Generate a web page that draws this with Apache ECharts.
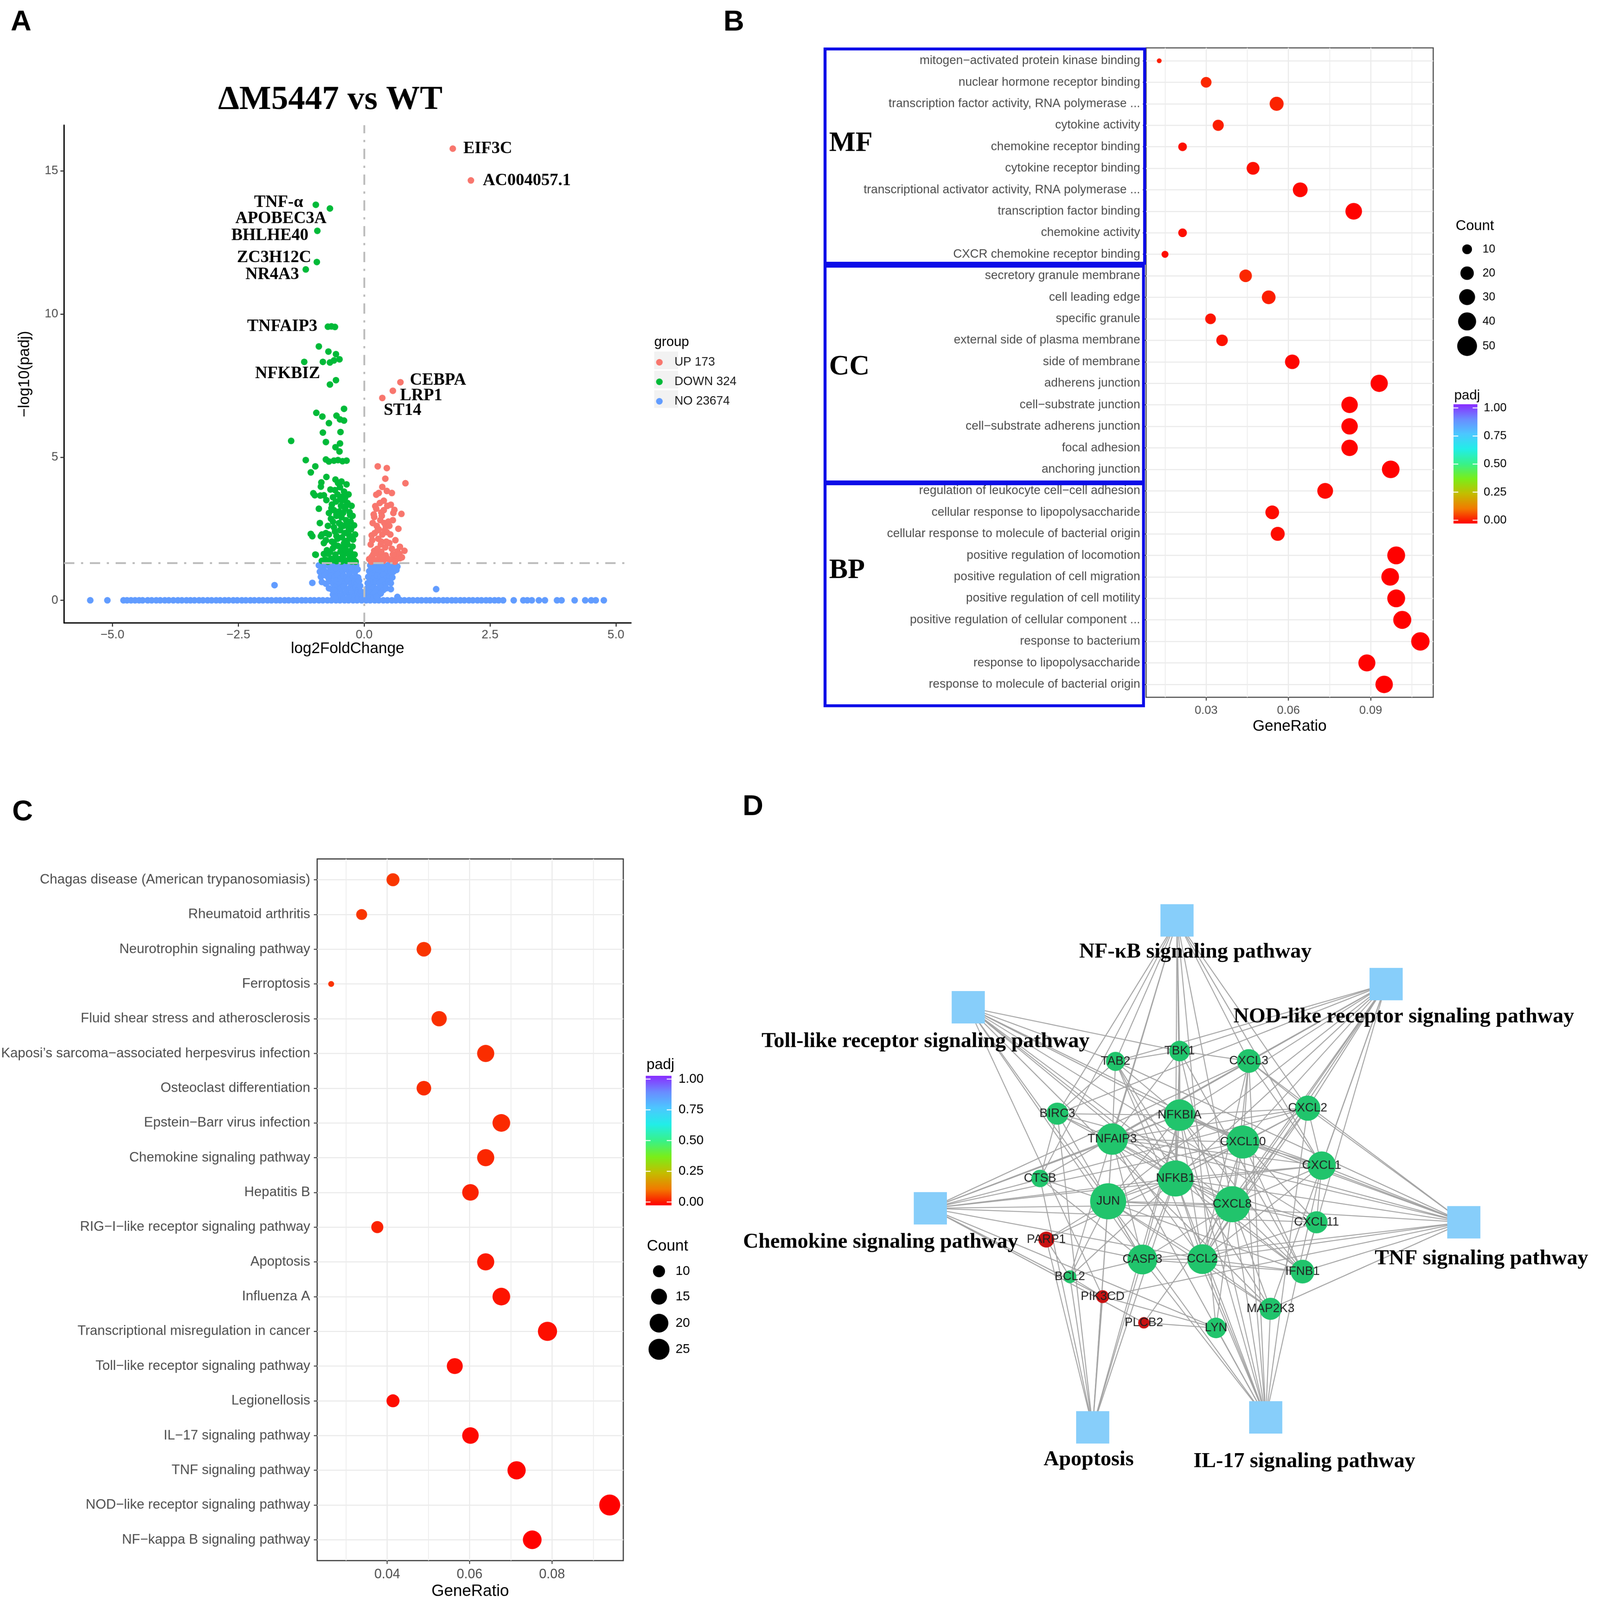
<!DOCTYPE html>
<html><head><meta charset="utf-8">
<script src="https://cdn.jsdelivr.net/npm/echarts@6/dist/echarts.min.js"></script>
<style>html,body{margin:0;padding:0;background:#fff;overflow:hidden}#c{width:4317px;height:4346px;transform-origin:0 0}</style>
</head><body><div id="c"></div>
<script>
// ================= DATA =================
// Panel A: volcano plot (log2FoldChange, -log10(padj))
const labeledGenes = [
  ['EIF3C', 1.76, 15.78, 'UP'], ['AC004057.1', 2.12, 14.67, 'UP'],
  ['TNF-\u03b1', -0.96, 13.82, 'DOWN'], ['APOBEC3A', -0.68, 13.69, 'DOWN'],
  ['BHLHE40', -0.93, 12.91, 'DOWN'], ['ZC3H12C', -0.94, 11.82, 'DOWN'],
  ['NR4A3', -1.16, 11.56, 'DOWN'], ['TNFAIP3', -0.72, 9.56, 'DOWN'],
  ['NFKBIZ', -0.68, 7.54, 'DOWN'], ['CEBPA', 0.72, 7.62, 'UP'],
  ['LRP1', 0.57, 7.32, 'UP'], ['ST14', 0.36, 7.07, 'UP']
];
const upPoints = [
  [0.27,4.68],[0.45,4.62],[0.42,4.25],[0.82,4.09],[0.36,3.96],[0.45,3.82],[0.55,3.75],[0.24,3.69],[0.29,3.75],[0.39,3.48],
  [0.53,3.34],[0.6,3.16],[0.74,3.02],[0.22,3.29],[0.34,3.07],[0.57,2.8],[0.2,2.91],[0.43,2.59],[0.29,2.48],[0.45,2.38],
  [0.15,2.27],[0.34,2.05],[0.5,2.0],[0.71,1.87],[0.8,1.73],[0.66,1.71],[0.2,1.73],[0.43,1.57],[0.15,1.52],[0.59,1.54],
  [0.29,1.44],[0.53,1.41],[0.71,1.47],[0.1,1.44],[0.14,1.35],[0.18,1.6],[0.22,1.4],[0.26,1.8],[0.3,1.55],[0.34,1.7],
  [0.38,1.38],[0.42,1.85],[0.47,1.45],[0.16,2.1],[0.21,2.35],[0.25,2.6],[0.28,2.15],[0.32,2.8],[0.36,2.3],[0.4,2.7],
  [0.44,2.05],[0.19,3.0],[0.24,3.2],[0.27,2.45],[0.31,3.4],[0.35,2.95],[0.39,3.15],[0.48,2.75],[0.52,2.3],[0.55,1.8],
  [0.62,2.1],[0.65,1.45],[0.68,2.5],[0.58,3.05],[0.13,1.95],[0.17,2.7],[0.23,1.65],[0.33,1.95],[0.37,1.5],[0.41,2.45],
  [0.46,3.3],[0.5,2.6],[0.57,1.6],[0.61,1.35],[0.7,1.62],[0.75,1.5]
];
const downPoints = [
  [-0.65,9.57],[-0.58,9.55],[-0.90,8.87],[-0.71,8.69],[-0.56,8.60],[-0.49,8.42],[-1.19,8.33],[-0.82,8.33],[-0.68,8.31],[-0.60,8.38],
  [-0.56,7.69],[-0.40,6.69],[-0.95,6.55],[-0.83,6.42],[-0.70,6.19],[-0.55,6.45],[-0.48,6.32],[-0.40,6.28],[-0.82,5.86],[-0.47,5.88],
  [-1.45,5.57],[-0.76,5.53],[-0.48,5.48],[-0.57,5.35],[-0.49,5.20],[-1.16,4.90],[-0.76,4.92],[-0.70,4.85],[-0.60,4.88],[-0.52,4.90],
  [-0.43,4.86],[-0.35,4.88],[-0.97,4.68],[-1.06,4.47],[-0.75,4.31],[-0.85,4.12],[-0.57,4.22],[-0.67,3.87],[-1.01,3.74],[-0.87,3.66],
  [-0.98,3.67],[-0.80,3.67],[-1.06,2.32],[-0.86,2.24],[-0.76,2.35],[-0.97,1.60],[-0.76,1.41],[-1.03,2.24],[-0.8,2.0],
  [-0.84,1.38],[-0.78,1.42],[-0.72,1.35],[-0.66,1.45],[-0.61,1.4],[-0.55,1.37],[-0.5,1.44],[-0.45,1.36],[-0.4,1.41],[-0.35,1.38],
  [-0.3,1.43],[-0.25,1.36],[-0.2,1.4],[-0.17,1.35],[-0.8,1.62],[-0.74,1.75],[-0.68,1.68],[-0.62,1.82],[-0.57,1.6],[-0.52,1.9],
  [-0.47,1.7],[-0.43,1.85],[-0.38,1.65],[-0.33,1.95],[-0.28,1.72],[-0.23,1.88],[-0.19,1.6],[-0.6,1.98],[-0.4,1.99],[-0.76,2.1],
  [-0.7,2.3],[-0.64,2.05],[-0.58,2.4],[-0.53,2.15],[-0.48,2.45],[-0.44,2.2],[-0.39,2.35],[-0.34,2.08],[-0.3,2.28],[-0.26,2.48],
  [-0.22,2.12],[-0.18,2.3],[-0.55,2.25],[-0.72,2.6],[-0.66,2.85],[-0.6,2.55],[-0.55,2.95],[-0.5,2.7],[-0.45,2.9],[-0.41,2.6],
  [-0.36,2.8],[-0.31,2.55],[-0.27,2.75],[-0.23,2.95],[-0.2,2.62],[-0.62,2.75],[-0.7,3.05],[-0.64,3.35],[-0.6,3.15],[-0.56,3.45],
  [-0.5,3.1],[-0.46,3.3],[-0.42,3.5],[-0.38,3.2],[-0.33,3.4],[-0.29,3.08],[-0.25,3.3],[-0.65,3.22],[-0.55,3.0],[-0.62,3.6],
  [-0.58,3.85],[-0.53,3.7],[-0.48,3.95],[-0.44,3.62],[-0.4,3.8],[-0.35,4.05],[-0.31,3.7],[-0.45,4.15],[-0.52,4.1],[-0.38,3.58],
  [-0.86,3.97],[-0.88,2.7],[-0.9,3.2],[-0.75,3.5],[-0.84,2.3],[-0.96,1.59],[-0.72,1.63],[-0.42,1.55],[-0.36,1.75],[-0.3,1.6],
  [-0.24,1.5],[-0.38,2.0],[-0.32,2.4],[-0.27,2.2],[-0.47,2.65],[-0.35,2.65],[-0.28,2.98],[-0.42,3.05],[-0.48,3.52],[-0.36,3.3]
];
const noPoints = [
  [-0.9,1.22],[-0.83,1.18],[-0.77,1.25],[-0.7,1.2],[-0.64,1.24],[-0.58,1.17],[-0.52,1.23],[-0.46,1.19],[-0.4,1.25],[-0.34,1.2],
  [-0.28,1.24],[-0.22,1.18],[-0.16,1.22],[-0.88,1.0],[-0.8,1.05],[-0.73,0.98],[-0.66,1.06],[-0.6,1.0],[-0.54,1.08],[-0.48,0.97],
  [-0.42,1.03],[-0.36,1.1],[-0.3,0.99],[-0.24,1.05],[-0.18,1.0],[-0.13,1.08],[-0.86,0.82],[-0.78,0.88],[-0.71,0.78],[-0.65,0.85],
  [-0.59,0.8],[-0.53,0.9],[-0.47,0.77],[-0.41,0.86],[-0.35,0.8],[-0.29,0.9],[-0.23,0.78],[-0.17,0.84],[-0.12,0.8],[-0.84,0.64],
  [-0.76,0.58],[-0.69,0.66],[-0.62,0.6],[-0.56,0.68],[-0.5,0.57],[-0.44,0.65],[-0.38,0.6],[-0.32,0.7],[-0.26,0.58],[-0.2,0.64],
  [-0.14,0.6],[-0.1,0.68],[-0.7,0.42],[-0.64,0.38],[-0.58,0.45],[-0.52,0.36],[-0.46,0.42],[-0.4,0.48],[-0.34,0.38],[-0.28,0.44],
  [-0.22,0.4],[-0.16,0.46],[-0.11,0.38],[-0.08,0.5],[-0.62,0.2],[-0.55,0.25],[-0.48,0.16],[-0.42,0.22],[-0.36,0.28],[-0.3,0.18],
  [-0.24,0.24],[-0.18,0.15],[-0.13,0.26],[-0.09,0.2],[-0.06,0.3],[-0.4,0.06],[-0.3,0.1],[-0.2,0.05],[-0.12,0.08],[-0.06,0.12],
  [-0.03,0.06],[0.12,1.22],[0.18,1.18],[0.24,1.25],[0.3,1.2],[0.36,1.24],[0.42,1.17],[0.48,1.23],[0.54,1.2],[0.6,1.25],
  [0.66,1.18],[0.1,1.02],[0.16,1.08],[0.22,0.98],[0.28,1.05],[0.34,1.0],[0.4,1.08],[0.46,0.97],[0.52,1.04],[0.58,1.0],
  [0.64,1.06],[0.08,0.82],[0.14,0.88],[0.2,0.78],[0.26,0.86],[0.32,0.8],[0.38,0.9],[0.44,0.77],[0.5,0.84],[0.56,0.8],
  [0.07,0.6],[0.12,0.66],[0.18,0.58],[0.24,0.65],[0.3,0.6],[0.36,0.68],[0.42,0.57],[0.48,0.64],[0.53,0.6],[0.05,0.4],
  [0.1,0.46],[0.15,0.38],[0.2,0.44],[0.26,0.4],[0.32,0.47],[0.38,0.36],[0.44,0.42],[0.04,0.22],[0.08,0.16],[0.12,0.26],
  [0.17,0.2],[0.22,0.28],[0.28,0.18],[0.33,0.24],[0.03,0.08],[0.07,0.05],[0.12,0.1],[0.18,0.06],[0.25,0.12],
  [-1.78,0.53],[-1.03,0.61],[1.43,0.39],[0.53,0.39],[-0.6,0.34],[0.66,0.12],[-0.58,0.08],[0.7,0.02]
];
// genes with padj = 1 sitting on the baseline (-log10(padj) = 0)
const noBaselineX = [
  -5.44,-5.1,-4.78,-4.71,-4.63,-4.55,-4.47,-4.4,-4.3,-4.22,-4.13,-4.05,-3.96,-3.88,-3.79,-3.7,-3.62,-3.53,-3.45,-3.37,
  -3.28,-3.2,-3.11,-3.03,-2.94,-2.86,-2.77,-2.69,-2.6,-2.52,-2.43,-2.35,-2.26,-2.18,-2.09,-2.01,-1.92,-1.84,-1.75,-1.67,
  -1.58,-1.5,-1.41,-1.33,-1.24,-1.16,-1.07,-0.99,-0.9,-0.82,-0.73,-0.65,-0.56,-0.48,-0.39,-0.31,-0.22,-0.14,-0.05,0.04,
  0.12,0.21,0.29,0.38,0.46,0.55,0.63,0.72,0.8,0.89,0.97,1.06,1.14,1.23,1.31,1.4,1.48,1.57,1.65,1.74,
  1.82,1.91,1.99,2.08,2.16,2.25,2.33,2.42,2.5,2.59,2.67,2.76,2.97,3.16,3.24,3.33,3.47,3.59,3.83,3.92,
  4.18,4.39,4.51,4.6,4.76
];
const groupNames = ['UP 173', 'DOWN 324', 'NO 23674'];
const padjCut = 1.30103;
const xTicksA = [-5, -2.5, 0, 2.5, 5];
const yTicksA = [0, 5, 10, 15];

// Panel B: GO enrichment
const catsB = [
  'mitogen\u2212activated protein kinase binding','nuclear hormone receptor binding',
  'transcription factor activity, RNA polymerase ...','cytokine activity','chemokine receptor binding',
  'cytokine receptor binding','transcriptional activator activity, RNA polymerase ...','transcription factor binding',
  'chemokine activity','CXCR chemokine receptor binding','secretory granule membrane','cell leading edge',
  'specific granule','external side of plasma membrane','side of membrane','adherens junction',
  'cell\u2212substrate junction','cell\u2212substrate adherens junction','focal adhesion','anchoring junction',
  'regulation of leukocyte cell\u2212cell adhesion','cellular response to lipopolysaccharide',
  'cellular response to molecule of bacterial origin','positive regulation of locomotion',
  'positive regulation of cell migration','positive regulation of cell motility',
  'positive regulation of cellular component ...','response to bacterium','response to lipopolysaccharide',
  'response to molecule of bacterial origin'
];
const ratioB = [0.0129,0.0300,0.0557,0.0344,0.0214,0.0471,0.0643,0.0838,0.0214,0.0150,0.0444,0.0528,0.0316,0.0358,0.0614,
  0.0931,0.0823,0.0823,0.0823,0.0973,0.0734,0.0541,0.0561,0.0993,0.0971,0.0993,0.1015,0.1081,0.0886,0.0949];
const countB = [5,12,22,13,8,18,25,33,8,6,17,21,12,14,24,36,32,32,32,38,29,21,22,39,38,39,40,42,35,37];
const padjB = [0.03,0.04,0.035,0.03,0.015,0.015,0.008,0.002,0.015,0.012,0.04,0.03,0.02,0.018,0.006,
  0.003,0.004,0.004,0.004,0.002,0.01,0.012,0.012,0.001,0.001,0.001,0.001,0.0005,0.002,0.001];
const xMajorB = [0.03, 0.06, 0.09];
const xMinorB = [0.015, 0.045, 0.075, 0.105];
const countLegendB = [10, 20, 30, 40, 50];
const ontologyGroups = [['MF', 0, 9], ['CC', 10, 19], ['BP', 20, 29]];

// Panel C: KEGG enrichment
const catsC = [
  'Chagas disease (American trypanosomiasis)','Rheumatoid arthritis','Neurotrophin signaling pathway','Ferroptosis',
  'Fluid shear stress and atherosclerosis','Kaposi\u2019s sarcoma\u2212associated herpesvirus infection',
  'Osteoclast differentiation','Epstein\u2212Barr virus infection','Chemokine signaling pathway','Hepatitis B',
  'RIG\u2212I\u2212like receptor signaling pathway','Apoptosis','Influenza A','Transcriptional misregulation in cancer',
  'Toll\u2212like receptor signaling pathway','Legionellosis','IL\u221217 signaling pathway','TNF signaling pathway',
  'NOD\u2212like receptor signaling pathway','NF\u2212kappa B signaling pathway'
];
const ratioC = [0.0414,0.0338,0.0489,0.0264,0.0526,0.0639,0.0489,0.0677,0.0639,0.0602,0.0376,0.0639,0.0677,0.0789,
  0.0564,0.0414,0.0602,0.0714,0.0940,0.0752];
const countC = [11,9,13,7,14,17,13,18,17,16,10,17,18,21,15,11,16,19,25,20];
const padjC = [0.055,0.054,0.053,0.052,0.048,0.046,0.045,0.043,0.04,0.035,0.034,0.025,0.02,0.015,0.014,0.013,0.008,0.005,0.001,0.002];
const xMajorC = [0.04, 0.06, 0.08];
const xMinorC = [0.03, 0.05, 0.07, 0.09];
const countLegendC = [10, 15, 20, 25];
const padjTicks = [0, 0.25, 0.5, 0.75, 1];

// Panel D: gene-pathway network
const pathways = ['NF-\u03baB signaling pathway','NOD-like receptor signaling pathway','Toll-like receptor signaling pathway',
  'Chemokine signaling pathway','TNF signaling pathway','Apoptosis','IL-17 signaling pathway'];
const genes = [ // name, degree, regulation
  ['TAB2',9,'down'],['TBK1',10,'down'],['CXCL3',12,'down'],['BIRC3',11,'down'],['NFKBIA',17,'down'],['CXCL2',13,'down'],
  ['TNFAIP3',17,'down'],['CXCL10',18,'down'],['CXCL1',15,'down'],['CTSB',8,'down'],['NFKB1',20,'down'],['JUN',20,'down'],
  ['CXCL8',20,'down'],['CXCL11',11,'down'],['PARP1',7,'up'],['CASP3',16,'down'],['CCL2',16,'down'],['IFNB1',12,'down'],
  ['BCL2',5,'down'],['PIK3CD',5,'up'],['PLCB2',4,'up'],['LYN',10,'down'],['MAP2K3',11,'down']
];
// network layout coordinates (layout units of the network panel)
const netLayout = {
  'NF-\u03baB signaling pathway':[797,100],'NOD-like receptor signaling pathway':[1365,273],
  'Toll-like receptor signaling pathway':[230,336],'Chemokine signaling pathway':[127,882],
  'TNF signaling pathway':[1576,920],'Apoptosis':[568,1477],'IL-17 signaling pathway':[1038,1450],
  TAB2:[630,483],TBK1:[804,455],CXCL3:[992,482],BIRC3:[472,625],NFKBIA:[804,629],CXCL2:[1152,610],
  TNFAIP3:[621,694],CXCL10:[976,702],CXCL1:[1190,766],CTSB:[425,801],NFKB1:[793,801],JUN:[610,863],
  CXCL8:[947,871],CXCL11:[1176,920],PARP1:[442,967],CASP3:[703,1021],CCL2:[866,1020],IFNB1:[1138,1054],
  BCL2:[506,1068],PIK3CD:[595,1122],PLCB2:[707,1193],LYN:[903,1207],MAP2K3:[1051,1155]
};
const pathwayGenes = {
  'NF-\u03baB signaling pathway':['TAB2','TBK1','BIRC3','NFKBIA','NFKB1','TNFAIP3','CXCL8','CXCL2','CXCL3','CXCL1','BCL2','LYN','CTSB'],
  'NOD-like receptor signaling pathway':['TAB2','TBK1','BIRC3','NFKBIA','NFKB1','TNFAIP3','JUN','CXCL8','CXCL2','CXCL3','CXCL1','CCL2','IFNB1','MAP2K3','CTSB','PLCB2','CXCL10'],
  'Toll-like receptor signaling pathway':['TAB2','TBK1','NFKBIA','NFKB1','JUN','CXCL8','CXCL10','CXCL11','IFNB1','MAP2K3','PIK3CD','CASP3'],
  'Chemokine signaling pathway':['CXCL1','CXCL2','CXCL3','CXCL8','CXCL10','CXCL11','CCL2','NFKBIA','NFKB1','PIK3CD','PLCB2','LYN','TNFAIP3'],
  'TNF signaling pathway':['TAB2','BIRC3','NFKBIA','NFKB1','TNFAIP3','JUN','CXCL1','CXCL2','CXCL3','CXCL10','CCL2','CASP3','MAP2K3','PIK3CD','IFNB1'],
  'Apoptosis':['BIRC3','NFKBIA','NFKB1','JUN','CTSB','CASP3','PARP1','BCL2','PIK3CD','TNFAIP3'],
  'IL-17 signaling pathway':['TAB2','TBK1','NFKBIA','NFKB1','TNFAIP3','JUN','CXCL1','CXCL2','CXCL3','CXCL8','CXCL10','CCL2','CASP3','MAP2K3','LYN']
};
const ppiEdges = [
  ['JUN','NFKB1'],['JUN','NFKBIA'],['JUN','CXCL8'],['JUN','CCL2'],['JUN','CASP3'],['JUN','TNFAIP3'],['JUN','BCL2'],['JUN','PARP1'],
  ['JUN','CXCL10'],['JUN','MAP2K3'],['JUN','IFNB1'],['JUN','CTSB'],['NFKB1','NFKBIA'],['NFKB1','TNFAIP3'],['NFKB1','CXCL8'],
  ['NFKB1','CXCL10'],['NFKB1','CCL2'],['NFKB1','CASP3'],['NFKB1','BIRC3'],['NFKB1','TBK1'],['NFKB1','TAB2'],['NFKB1','CXCL1'],
  ['NFKB1','CXCL2'],['NFKB1','IFNB1'],['NFKB1','BCL2'],['NFKB1','PARP1'],['NFKB1','CXCL11'],['NFKBIA','TNFAIP3'],['NFKBIA','CXCL8'],
  ['NFKBIA','CXCL10'],['NFKBIA','TBK1'],['NFKBIA','TAB2'],['NFKBIA','BIRC3'],['NFKBIA','CCL2'],['NFKBIA','CXCL2'],['NFKBIA','CXCL1'],
  ['NFKBIA','IFNB1'],['NFKBIA','CASP3'],['CXCL8','CXCL10'],['CXCL8','CXCL1'],['CXCL8','CXCL2'],['CXCL8','CXCL3'],['CXCL8','CCL2'],
  ['CXCL8','CXCL11'],['CXCL8','CASP3'],['CXCL8','TNFAIP3'],['CXCL8','IFNB1'],['CXCL8','LYN'],['CXCL8','MAP2K3'],['CXCL10','CXCL11'],
  ['CXCL10','CXCL1'],['CXCL10','CXCL2'],['CXCL10','CXCL3'],['CXCL10','CCL2'],['CXCL10','IFNB1'],['CXCL10','TNFAIP3'],['CXCL1','CXCL2'],
  ['CXCL1','CXCL3'],['CXCL1','CCL2'],['CXCL1','CXCL11'],['CXCL2','CXCL3'],['CXCL2','CCL2'],['CXCL3','CCL2'],['TNFAIP3','BIRC3'],
  ['TNFAIP3','TAB2'],['TNFAIP3','CCL2'],['TNFAIP3','CASP3'],['TNFAIP3','TBK1'],['TNFAIP3','CXCL2'],['TNFAIP3','CXCL1'],
  ['CASP3','PARP1'],['CASP3','BCL2'],['CASP3','CCL2'],['CASP3','BIRC3'],['CASP3','CTSB'],['CASP3','IFNB1'],['CCL2','IFNB1'],
  ['CCL2','CXCL11'],['TBK1','IFNB1'],['TBK1','TAB2'],['TAB2','MAP2K3'],['BCL2','PARP1'],['LYN','PIK3CD'],['LYN','PLCB2'],
  ['IFNB1','CXCL11'],['MAP2K3','CCL2'],['CTSB','BIRC3'],['PIK3CD','BCL2'],['BIRC3','TAB2'],['CXCL3','TBK1']
];

// ================= STYLE / HELPERS =================
const SANS = "'Liberation Sans', Arial, Helvetica, sans-serif";
const SERIF = "'Liberation Serif', 'Times New Roman', serif";
const padjColors = ['#ff0000','#f27a00','#c4bd00','#7aee1a','#38f28a','#22eee8','#4cc8ff','#6a8cff','#8a2cff'];
const sizeB = c => 13 + 37 * Math.sqrt(Math.max(0, c - 5) / 37);
const sizeC = c => 16 + 41 * Math.sqrt(Math.max(0, c - 7) / 18);
const nodeSize = d => 14 + 4.2 * d;
const labelOffsetA = {
  'EIF3C':[95,0],'AC004057.1':[152,1],'TNF-\u03b1':[-101,-6],'APOBEC3A':[-133,28],'BHLHE40':[-129,13],
  'ZC3H12C':[-116,-12],'NR4A3':[-91,14],'TNFAIP3':[-124,0],'NFKBIZ':[-115,-29],'CEBPA':[102,-5],'LRP1':[77,14],'ST14':[55,34]
};
const pathwayLabelOffset = {
  'NF-\u03baB signaling pathway':[50,86],'NOD-like receptor signaling pathway':[48,89],
  'Toll-like receptor signaling pathway':[-116,93],'Chemokine signaling pathway':[-135,92],
  'TNF signaling pathway':[48,99],'Apoptosis':[-11,88],'IL-17 signaling pathway':[105,120]
};
const minus = s => String(s).replace('-', '\u2212');

function T(x, y, text, size, o) {
  o = o || {};
  const al = o.align || 'left', va = o.va || 'middle';
  return { type: 'text', x: x, y: y, z: o.z || 50, silent: true,
    style: { text: text, fontSize: size, fontFamily: o.family || SANS, fontWeight: o.weight || 'normal',
      fill: o.color || '#000', align: al, verticalAlign: va, textAlign: al, textVerticalAlign: va } };
}

// ---------- Panel A series data ----------
function labeled(grp) {
  return labeledGenes.filter(g => g[3] === grp).map(g => ({
    value: [g[1], g[2]], name: g[0],
    label: { show: true, formatter: g[0], position: 'inside', offset: labelOffsetA[g[0]],
      fontFamily: SERIF, fontWeight: 'bold', fontSize: 46, color: '#000' }
  }));
}
const noData = noBaselineX.map(x => [x, 0]).concat(noPoints);
const downData = downPoints.concat(labeled('DOWN'));
const upData = upPoints.concat(labeled('UP'));

// ---------- Panel B/C data ----------
const dataB = catsB.map((c, i) => [ratioB[i], i, padjB[i], countB[i]]);
const dataC = catsC.map((c, i) => [ratioC[i], i, padjC[i], countC[i]]);

// ---------- Panel D data ----------
const nodes = pathways.map(p => ({
  name: p, value: netLayout[p], symbol: 'rect', symbolSize: [90, 88],
  itemStyle: { color: '#87cefa' },
  label: { show: true, position: 'inside', offset: pathwayLabelOffset[p], fontFamily: SERIF, fontWeight: 'bold', fontSize: 58, color: '#000' }
})).concat(genes.map(g => ({
  name: g[0], value: netLayout[g[0]], symbol: 'circle', symbolSize: nodeSize(g[1]),
  itemStyle: { color: g[2] === 'up' ? '#c81212' : '#21c46c' },
  label: { show: true, position: 'inside', fontFamily: SANS, fontSize: 33, color: '#222' }
})));
const links = [];
pathways.forEach(p => pathwayGenes[p].forEach(g => links.push({ source: p, target: g })));
ppiEdges.forEach(e => links.push({ source: e[0], target: e[1] }));

// ---------- graphics (legends, annotations) ----------
const G = [];
G.push(T(29, 61, 'A', 78, { weight: 'bold' }));
G.push(T(1965, 61, 'B', 78, { weight: 'bold' }));
G.push(T(33, 2206, 'C', 78, { weight: 'bold' }));
G.push(T(2017, 2192, 'D', 78, { weight: 'bold' }));
G.push(T(897, 272, '\u0394M5447 vs WT', 92, { family: SERIF, weight: 'bold', align: 'center' }));
G.push(T(1777, 930, 'group', 37, {}));
[955, 1007, 1060].forEach(y => G.push({ type: 'rect', z: 1, silent: true, shape: { x: 1777, y: y, width: 65, height: 48 }, style: { fill: '#f2f2f2' } }));
const boxB = [[2241, 133, 868, 582], [2241, 723, 865, 586], [2241, 1314, 865, 603]];
const boxLabelY = [390, 997, 1550];
ontologyGroups.forEach((g, k) => {
  const b = boxB[k];
  G.push({ type: 'rect', z: 40, silent: true, shape: { x: b[0], y: b[1], width: b[2], height: b[3] }, style: { fill: 'none', stroke: '#0c0ce8', lineWidth: 8 } });
  G.push(T(2252, boxLabelY[k], g[0], 76, { family: SERIF, weight: 'bold' }));
});
function colorbar(x, y, w, h, y1, y0, labX, fs, titleY, titleFs) {
  const stops = padjColors.map((c, i) => ({ offset: i / (padjColors.length - 1), color: c }));
  G.push(T(x + 2, titleY, 'padj', titleFs, {}));
  G.push({ type: 'rect', z: 30, silent: true, shape: { x: x, y: y, width: w, height: h },
    style: { fill: { type: 'linear', x: 0, y: 1, x2: 0, y2: 0, colorStops: stops } } });
  padjTicks.forEach(t => {
    const ty = y0 + (y1 - y0) * t;
    G.push({ type: 'line', z: 31, silent: true, shape: { x1: x, y1: ty, x2: x + 13, y2: ty }, style: { stroke: '#fff', lineWidth: 2.5 } });
    G.push({ type: 'line', z: 31, silent: true, shape: { x1: x + w - 13, y1: ty, x2: x + w, y2: ty }, style: { stroke: '#fff', lineWidth: 2.5 } });
    G.push(T(labX, ty, t.toFixed(2), fs, {}));
  });
}
colorbar(3948, 1098, 65, 324, 1108, 1413, 4030, 32, 1075, 37);
colorbar(1754, 2922, 70, 352, 2931, 3265, 1843, 35, 2893, 40);
G.push(T(3954, 614, 'Count', 39, {}));
[677, 742, 807, 873, 940].forEach((y, i) => {
  G.push({ type: 'circle', z: 30, silent: true, shape: { cx: 3985, cy: y, r: sizeB(countLegendB[i]) / 2 }, style: { fill: '#000' } });
  G.push(T(4027, y, String(countLegendB[i]), 31, {}));
});
G.push(T(1757, 3385, 'Count', 42, {}));
[3453, 3522, 3594, 3665].forEach((y, i) => {
  G.push({ type: 'circle', z: 30, silent: true, shape: { cx: 1790, cy: y, r: sizeC(countLegendC[i]) / 2 }, style: { fill: '#000' } });
  G.push(T(1835, y, String(countLegendC[i]), 35, {}));
});

// ================= OPTION =================
const tickGrey = '#4d4d4d';
function catAxisY(grid, n, cats, fs, margin) {
  const idx = cats.map((c, i) => i);
  return { type: 'value', gridIndex: grid, min: -0.6, max: n - 1 + 0.6, inverse: true, position: 'left',
    axisLine: { show: false, onZero: false },
    axisTick: { show: true, length: 9, lineStyle: { color: '#333', width: 2.5 }, customValues: idx },
    axisLabel: { customValues: idx, formatter: v => cats[Math.round(v)] || '', fontSize: fs, color: tickGrey, margin: margin, fontFamily: SANS },
    splitLine: { show: true, lineStyle: { color: '#ebebeb', width: 3 } } };
}
function ratioAxis(grid, min, max, major, fs, nameFs, nameGap) {
  return { type: 'value', gridIndex: grid, min: min, max: max, position: 'bottom',
    name: 'GeneRatio', nameLocation: 'middle', nameGap: nameGap, nameTextStyle: { fontSize: nameFs, color: '#000', fontFamily: SANS },
    axisLine: { show: false, onZero: false },
    axisTick: { show: true, length: 9, lineStyle: { color: '#333', width: 2.5 }, customValues: major },
    axisLabel: { customValues: major, formatter: v => v.toFixed(2), fontSize: fs, color: tickGrey, margin: 20, fontFamily: SANS },
    splitLine: { show: true, lineStyle: { color: '#ebebeb', width: 3 } } };
}
function minorAxis(grid, min, max, minor) {
  return { type: 'value', gridIndex: grid, min: min, max: max, position: 'top',
    axisLine: { show: false, onZero: false }, axisLabel: { show: false },
    axisTick: { show: false, customValues: minor },
    splitLine: { show: true, lineStyle: { color: '#ededed', width: 2.2 } } };
}

const option = {
  animation: false,
  backgroundColor: '#ffffff',
  textStyle: { fontFamily: SANS },
  grid: [
    { left: 174, top: 340, width: 1540, height: 1352 },
    { left: 3113, top: 130, width: 780, height: 1764, show: true, borderColor: '#4d4d4d', borderWidth: 3, backgroundColor: '#fff', z: 0 },
    { left: 856, top: 2333, width: 837, height: 1913, show: true, borderColor: '#333', borderWidth: 3, backgroundColor: '#fff', z: 0 },
    { left: 2400, top: 2400, width: 1700, height: 1700 }
  ],
  xAxis: [
    { type: 'value', gridIndex: 0, min: -5.96, max: 5.30, position: 'bottom',
      name: 'log2FoldChange', nameLocation: 'middle', nameGap: 46, nameTextStyle: { fontSize: 42, color: '#000', fontFamily: SANS },
      axisLine: { show: true, onZero: false, lineStyle: { color: '#000', width: 3.5 } },
      axisTick: { show: true, length: 10, lineStyle: { color: '#333', width: 3 }, customValues: xTicksA },
      axisLabel: { customValues: xTicksA, formatter: v => minus(v.toFixed(1)), fontSize: 33, color: tickGrey, margin: 16, fontFamily: SANS },
      splitLine: { show: false } },
    ratioAxis(1, 0.0081, 0.1128, xMajorB, 32, 42, 58),
    minorAxis(1, 0.0081, 0.1128, xMinorB),
    ratioAxis(2, 0.0230, 0.0973, xMajorC, 36, 44, 62),
    minorAxis(2, 0.0230, 0.0973, xMinorC),
    { type: 'value', gridIndex: 3, min: 0, max: 1700, show: false }
  ],
  yAxis: [
    { type: 'value', gridIndex: 0, min: -0.79, max: 16.6,
      name: '\u2212log10(padj)', nameLocation: 'middle', nameGap: 86, nameTextStyle: { fontSize: 42, color: '#000', fontFamily: SANS },
      axisLine: { show: true, onZero: false, lineStyle: { color: '#000', width: 3.5 } },
      axisTick: { show: true, length: 10, lineStyle: { color: '#333', width: 3 }, customValues: yTicksA },
      axisLabel: { customValues: yTicksA, formatter: v => String(v), fontSize: 33, color: tickGrey, margin: 16, fontFamily: SANS },
      splitLine: { show: false } },
    catAxisY(1, catsB.length, catsB, 33, 16),
    catAxisY(2, catsC.length, catsC, 37, 19),
    { type: 'value', gridIndex: 3, min: 0, max: 1700, inverse: true, show: false }
  ],
  visualMap: [
    { type: 'continuous', show: false, seriesIndex: 3, dimension: 2, min: 0, max: 1, inRange: { color: padjColors } },
    { type: 'continuous', show: false, seriesIndex: 4, dimension: 2, min: 0, max: 1, inRange: { color: padjColors } }
  ],
  legend: [{
    data: groupNames, orient: 'vertical', left: 1777, top: 955, itemWidth: 72, itemHeight: 18, itemGap: 5,
    selectedMode: false, icon: 'circle', z: 10,
    textStyle: { fontSize: 33, fontFamily: SANS, color: '#1a1a1a', lineHeight: 48 }
  }],
  series: [
    { name: 'NO 23674', type: 'scatter', xAxisIndex: 0, yAxisIndex: 0, symbolSize: 18, data: noData,
      itemStyle: { color: '#619CFF', opacity: 1 }, silent: true },
    { name: 'DOWN 324', type: 'scatter', xAxisIndex: 0, yAxisIndex: 0, symbolSize: 18, data: downData,
      itemStyle: { color: '#00BA38', opacity: 1 }, silent: true },
    { name: 'UP 173', type: 'scatter', xAxisIndex: 0, yAxisIndex: 0, symbolSize: 18, data: upData,
      itemStyle: { color: '#F8766D', opacity: 1 }, silent: true,
      markLine: { silent: true, symbol: 'none', label: { show: false },
        lineStyle: { color: '#bdbdbd', width: 5, type: [28, 18, 6, 18] },
        data: [{ xAxis: 0 }, { yAxis: padjCut }] } },
    { name: 'GO', type: 'scatter', xAxisIndex: 1, yAxisIndex: 1, data: dataB, encode: { x: 0, y: 1 },
      symbolSize: v => sizeB(v[3]), itemStyle: { opacity: 1 }, silent: true, z: 5 },
    { name: 'KEGG', type: 'scatter', xAxisIndex: 3, yAxisIndex: 2, data: dataC, encode: { x: 0, y: 1 },
      symbolSize: v => sizeC(v[3]), itemStyle: { opacity: 1 }, silent: true, z: 5 },
    { name: 'network', type: 'graph', layout: 'none', coordinateSystem: 'cartesian2d', xAxisIndex: 5, yAxisIndex: 3,
      data: nodes, links: links, roam: false, silent: true,
      lineStyle: { color: '#a3a3a3', width: 2.6, opacity: 1, curveness: 0 },
      emphasis: { disabled: true } }
  ],
  graphic: G
};

// fit the 4317x4346 design into the actual viewport
const box = document.getElementById('c');
const fit = Math.min(window.innerWidth / 4317, window.innerHeight / 4346);
if (fit > 0 && Math.abs(fit - 1) > 0.002) box.style.transform = 'scale(' + fit + ')';
const chart = echarts.init(box, null, { renderer: 'canvas' });
chart.setOption(option);
</script></body></html>
